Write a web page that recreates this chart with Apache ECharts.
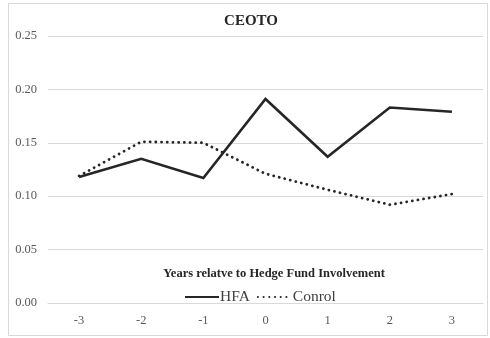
<!DOCTYPE html>
<html>
<head>
<meta charset="utf-8">
<script src="https://cdn.jsdelivr.net/npm/echarts@6/dist/echarts.min.js"></script>
<style>
  html, body { margin: 0; padding: 0; background: #fff; }
  #chart { width: 490px; height: 338px; }
</style>
</head>
<body>
<div id="chart"></div>
<script>
// Years relative to hedge fund involvement
const years = ['-3', '-2', '-1', '0', '1', '2', '3'];
// CEO turnover rates
const hfaValues = [0.118, 0.135, 0.117, 0.191, 0.137, 0.183, 0.179];
const controlValues = [0.119, 0.151, 0.150, 0.121, 0.106, 0.092, 0.102];
const seriesNames = ['HFA', 'Conrol'];
const chartTitle = 'CEOTO';
const axisTitle = 'Years relatve to Hedge Fund Involvement';

const serif = '"Liberation Serif", "Times New Roman", serif';
const ink = '#262626';

const chart = echarts.init(document.getElementById('chart'), null, { renderer: 'canvas' });
chart.setOption({
  animation: false,
  backgroundColor: '#fff',
  title: [
    {
      text: chartTitle,
      left: 251, top: 14, textAlign: 'center', padding: 0,
      textStyle: { fontFamily: serif, fontWeight: 'bold', fontSize: 15, color: '#262626' }
    },
    {
      text: axisTitle,
      left: 274, top: 267, textAlign: 'center', padding: 0,
      textStyle: { fontFamily: serif, fontWeight: 'bold', fontSize: 12.5, color: '#262626' }
    }
  ],
  graphic: [{
    type: 'rect', silent: true, z: -1,
    shape: { x: 8.5, y: 3.5, width: 479, height: 332 },
    style: { fill: 'none', stroke: '#d9d9d9', lineWidth: 1 }
  }],
  legend: {
    data: seriesNames,
    left: 184, top: 289, padding: 0,
    itemWidth: 34, itemHeight: 14, itemGap: 7,
    itemStyle: { opacity: 0 },
    textStyle: { fontFamily: serif, fontSize: 15.5, color: '#404040', padding: [0, 0, 0, -4] }
  },
  grid: { left: 48, right: 7, top: 36, bottom: 35 },
  xAxis: {
    type: 'category',
    data: years,
    boundaryGap: true,
    axisLine: { lineStyle: { color: '#d9d9d9', width: 1 } },
    axisTick: { show: false },
    axisLabel: { fontFamily: serif, fontSize: 12.5, color: '#595959', margin: 11 }
  },
  yAxis: {
    type: 'value',
    min: 0, max: 0.25, interval: 0.05,
    axisLine: { show: false },
    axisTick: { show: false },
    splitLine: { lineStyle: { color: '#d9d9d9', width: 1 } },
    axisLabel: {
      fontFamily: serif, fontSize: 12.5, color: '#595959', margin: 11,
      formatter: v => v.toFixed(2)
    }
  },
  series: [
    {
      name: seriesNames[0], type: 'line', data: hfaValues,
      symbol: 'none', color: ink,
      lineStyle: { color: ink, width: 2.6, join: 'miter' }
    },
    {
      name: seriesNames[1], type: 'line', data: controlValues,
      symbol: 'none', color: ink,
      lineStyle: { color: ink, width: 2.8, type: [0.1, 5.6], cap: 'round' }
    }
  ]
});
</script>
</body>
</html>
